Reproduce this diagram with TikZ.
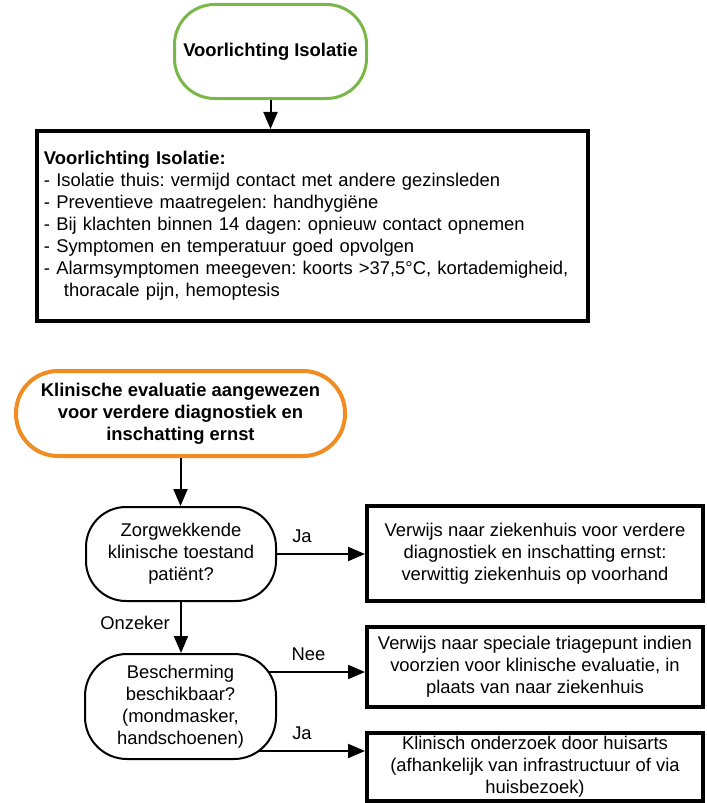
\documentclass[tikz,border=0pt]{standalone}
\usepackage{fontspec}
\setmainfont{Liberation Sans}
\frenchspacing
\usetikzlibrary{arrows.meta,backgrounds}
\definecolor{lgreen}{HTML}{7AB648}
\definecolor{lorange}{HTML}{EF8D22}
\begin{document}
\begin{tikzpicture}[x=1bp,y=-1bp,
  every node/.style={font=\fontsize{18.4bp}{22bp}\selectfont\frenchspacing, inner sep=0pt},
  term/.style={draw, fill=white, align=center, font=\fontsize{18.4bp}{22bp}\selectfont\bfseries},
  decis/.style={draw, fill=white, line width=2bp, align=center, rounded corners=40bp},
  outbox/.style={draw, fill=white, line width=4bp, align=center, minimum width=336bp},
  arr/.style={line width=2bp, -{Triangle[length=17bp,width=14bp]}},
  lbl/.style={}
]
\useasboundingbox (0,0) rectangle (707,803);
% nodes
\node[term, draw=lgreen, line width=3bp, rounded corners=40bp, minimum width=192bp, minimum height=94bp] (g) at (270.5,51.5) {Voorlichting Isolatie};
\node[draw, fill=white, line width=4bp, minimum height=190bp, text width=537bp, inner xsep=7bp, align=left] (A) at (312.5,226)
 {\textbf{Voorlichting Isolatie:}\\
  - Isolatie thuis: vermijd contact met andere gezinsleden\\
  - Preventieve maatregelen: handhygiëne\\
  - Bij klachten binnen 14 dagen: opnieuw contact opnemen\\
  - Symptomen en temperatuur goed opvolgen\\
  - Alarmsymptomen meegeven: koorts >37,5°C, kortademigheid,\\
  \hspace*{20bp}thoracale pijn, hemoptesis};
\node[term, draw=lorange, line width=4bp, rounded corners=42bp, minimum width=329bp, minimum height=85bp] (o) at (180.5,413.5)
 {Klinische evaluatie aangewezen\\voor verdere diagnostiek en\\inschatting ernst};
\node[decis, minimum width=190bp, minimum height=94bp] (s1) at (181,554)
 {Zorgwekkende\\klinische toestand\\patiënt?};
\node[decis, rounded corners=42bp, minimum width=191bp, minimum height=105bp] (s2) at (180.5,706.5)
 {Bescherming\\beschikbaar?\\(mondmasker,\\handschoenen)};
\node[outbox, minimum height=95bp] (r1) at (535,553.5)
 {Verwijs naar ziekenhuis voor verdere\\diagnostiek en inschatting ernst:\\verwittig ziekenhuis op voorhand};
\node[outbox, minimum height=80bp] (r2) at (535,667)
 {Verwijs naar speciale triagepunt indien\\voorzien voor klinische evaluatie, in\\plaats van naar ziekenhuis};
\node[outbox, minimum height=68bp] (r3) at (535,767)
 {Klinisch onderzoek door huisarts\\(afhankelijk van infrastructuur of via\\huisbezoek)};
% connectors
\draw[arr] (g.south) -- (g.south |- A.north);
\draw[arr] (o.south) -- (o.south |- s1.north);
\draw[arr] (s1.south) -- (s1.south |- s2.north);
\draw[arr] (s1.east) -- (s1.east -| r1.west);
\coordinate (yNee) at (0,672);
\coordinate (yJa) at (0,751);
\begin{pgfonlayer}{background}
\draw[arr] (s2.center |- yNee) -- (r2.west |- yNee);
\draw[arr] (s2.center |- yJa) -- (r3.west |- yJa);
\end{pgfonlayer}
% labels
\node[lbl] (l1) at (302,536) {Ja};
\node[lbl, anchor=east] (l2) at (170,623) {Onzeker};
\node[lbl] (l3) at (308.5,654) {Nee};
\node[lbl] (l4) at (302,733) {Ja};
\end{tikzpicture}
\end{document}
